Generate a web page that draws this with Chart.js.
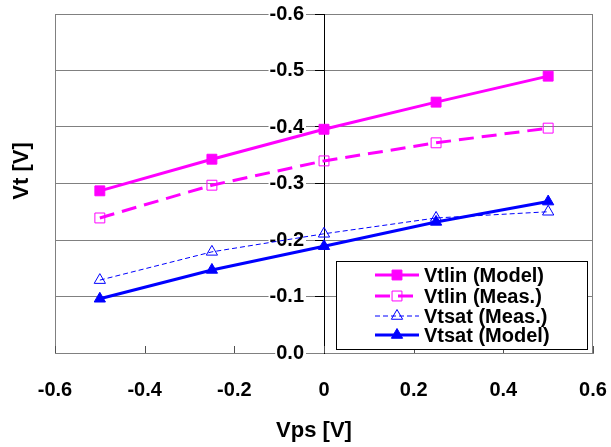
<!DOCTYPE html>
<html><head><meta charset="utf-8">
<script src="https://cdn.jsdelivr.net/npm/chart.js@4.4.0/dist/chart.umd.min.js"></script>
<style>html,body{margin:0;padding:0;background:#fff}#wrap{width:611px;height:447px;position:relative}</style>
</head><body><div id="wrap"><canvas id="c" width="611" height="447"></canvas></div>
<script>
const vps = [-0.5, -0.25, 0, 0.25, 0.5];
const vtlinModel = [-0.287, -0.343, -0.396, -0.444, -0.490];
const vtlinMeas = [-0.239, -0.297, -0.340, -0.372, -0.398];
const vtsatMeas = [-0.129, -0.179, -0.211, -0.239, -0.250];
const vtsatModel = [-0.096, -0.147, -0.189, -0.232, -0.268];
const seriesNames = ['Vtlin (Model)', 'Vtlin (Meas.)', 'Vtsat (Meas.)', 'Vtsat (Model)'];
const xTickValues = [-0.6, -0.4, -0.2, 0, 0.2, 0.4, 0.6];
const xTickLabels = ['-0.6', '-0.4', '-0.2', '0', '0.2', '0.4', '0.6'];
const yTickValues = [-0.6, -0.5, -0.4, -0.3, -0.2, -0.1, 0];
const yTickLabels = ['-0.6', '-0.5', '-0.4', '-0.3', '-0.2', '-0.1', '0.0'];
const xTitle = 'Vps [V]';
const yTitle = 'Vt [V]';

const FONT = '"Liberation Sans", Arial, sans-serif';
const MAG = '#FF00FF', BLUE = '#0000FF';

function pts(ys) { return vps.map((x, i) => ({x: x, y: ys[i]})); }
function lab(values, labels, v) {
  const i = values.findIndex(t => Math.abs(t - v) < 1e-6);
  return i < 0 ? '' : labels[i];
}

const datasets = [
  {label: seriesNames[0], data: pts(vtlinModel), borderColor: MAG, backgroundColor: MAG, borderWidth: 3,
   pointStyle: 'rect', pointRadius: 7, pointBackgroundColor: MAG, pointBorderColor: MAG, pointBorderWidth: 1},
  {label: seriesNames[1], data: pts(vtlinMeas), borderColor: MAG, backgroundColor: MAG, borderWidth: 3, borderDash: [15, 8],
   pointStyle: 'rect', pointRadius: 7, pointBackgroundColor: 'rgba(0,0,0,0)', pointBorderColor: MAG, pointBorderWidth: 1},
  {label: seriesNames[2], data: pts(vtsatMeas), borderColor: BLUE, backgroundColor: BLUE, borderWidth: 1, borderDash: [5, 3],
   pointStyle: 'triangle', pointRadius: 6.5, pointBackgroundColor: 'rgba(0,0,0,0)', pointBorderColor: BLUE, pointBorderWidth: 1},
  {label: seriesNames[3], data: pts(vtsatModel), borderColor: BLUE, backgroundColor: BLUE, borderWidth: 3,
   pointStyle: 'triangle', pointRadius: 6.5, pointBackgroundColor: BLUE, pointBorderColor: BLUE, pointBorderWidth: 1}
];
datasets.forEach(d => { d.fill = false; d.tension = 0; d.pointHoverRadius = d.pointRadius; });

const extras = {
  id: 'extras',
  afterLayout(chart) {
    const s = chart.scales.yLab;
    const x0 = chart.scales.x.getPixelForValue(0);
    s.right = x0;
    s.left = x0 - 60;
    s.width = 60;
  },
  beforeDatasetsDraw(chart) {
    const {ctx, chartArea: a} = chart;
    ctx.save();
    ctx.strokeStyle = '#808080';
    ctx.lineWidth = 1;
    ctx.beginPath();
    ctx.moveTo(a.left + 0.5, a.top); ctx.lineTo(a.left + 0.5, a.bottom);
    ctx.moveTo(a.right - 0.5, a.top); ctx.lineTo(a.right - 0.5, a.bottom);
    ctx.stroke();
    const xs = chart.scales.x;
    ctx.strokeStyle = '#505050';
    ctx.beginPath();
    xs.ticks.forEach(t => {
      const px = Math.round(xs.getPixelForValue(t.value)) + 0.5;
      ctx.moveTo(px, a.bottom); ctx.lineTo(px, a.bottom - 7);
    });
    ctx.stroke();
    ctx.restore();
  },
  afterDatasetsDraw(chart) {
    const ctx = chart.ctx;
    ctx.save();
    const bx = 336, by = 261, bw = 251, bh = 88;
    ctx.fillStyle = '#fff';
    ctx.fillRect(bx, by, bw, bh);
    ctx.strokeStyle = '#000';
    ctx.lineWidth = 1;
    ctx.strokeRect(bx + 0.5, by + 0.5, bw, bh);
    const rows = [275, 296, 316, 335];
    chart.data.datasets.forEach((d, i) => {
      const y = rows[i];
      ctx.save();
      ctx.strokeStyle = d.borderColor;
      ctx.lineWidth = d.borderWidth;
      ctx.setLineDash(d.borderDash || []);
      ctx.beginPath(); ctx.moveTo(375, y); ctx.lineTo(419, y); ctx.stroke();
      ctx.setLineDash([]);
      ctx.fillStyle = d.pointBackgroundColor;
      ctx.strokeStyle = d.pointBorderColor;
      ctx.lineWidth = d.pointBorderWidth;
      Chart.helpers.drawPoint(ctx, {pointStyle: d.pointStyle, radius: d.pointRadius, borderWidth: d.pointBorderWidth, rotation: 0}, 397, y);
      ctx.restore();
      ctx.fillStyle = '#000';
      ctx.font = 'bold 20px ' + FONT;
      ctx.textBaseline = 'middle';
      ctx.textAlign = 'left';
      ctx.fillText(d.label, 424, y + 1);
    });
    ctx.restore();
  },
  afterDraw(chart) {
    const ctx = chart.ctx;
    ctx.save();
    ctx.fillStyle = '#000';
    ctx.font = 'bold 22px ' + FONT;
    ctx.textAlign = 'center';
    ctx.textBaseline = 'alphabetic';
    ctx.fillText(xTitle, 314, 437);
    ctx.translate(28, 171);
    ctx.rotate(-Math.PI / 2);
    ctx.fillText(yTitle, 0, 0);
    ctx.restore();
  }
};

new Chart(document.getElementById('c'), {
  type: 'line',
  data: {datasets: datasets},
  plugins: [extras],
  options: {
    responsive: false,
    animation: false,
    devicePixelRatio: 1,
    layout: {padding: {left: 55, right: 18, top: 14, bottom: 0}},
    plugins: {legend: {display: false}, tooltip: {enabled: false}},
    scales: {
      x: {
        type: 'linear', min: -0.6, max: 0.6,
        afterFit(s) { s.height = 94; s.paddingLeft = 0; s.paddingRight = 0; },
        grid: {display: true, drawOnChartArea: false, drawTicks: false, color: '#808080'},
        border: {display: true, color: '#808080', width: 1},
        ticks: {stepSize: 0.2, padding: 25, color: '#000', font: {family: FONT, size: 20, weight: 'bold'},
          callback: (v) => lab(xTickValues, xTickLabels, v)}
      },
      y: {
        type: 'linear', min: -0.6, max: 0, reverse: true,
        position: {x: 0},
        afterFit(s) { s.paddingTop = 0; s.paddingBottom = 0; },
        grid: {color: '#808080', tickColor: '#000', tickLength: 9, drawTicks: true},
        border: {display: true, color: '#000', width: 1},
        ticks: {stepSize: 0.1, display: false}
      },
      yLab: {
        type: 'linear', min: -0.6, max: 0, reverse: true,
        position: 'left',
        afterFit(s) { s.width = 0; s.paddingTop = 0; s.paddingBottom = 0; },
        grid: {display: false, drawTicks: false},
        border: {display: false},
        ticks: {stepSize: 0.1, padding: 20, color: '#000', font: {family: FONT, size: 20, weight: 'bold'},
          showLabelBackdrop: true, backdropColor: '#fff', backdropPadding: {left: 1, right: 2, top: 1, bottom: 1},
          callback: (v) => lab(yTickValues, yTickLabels, v)}
      }
    }
  }
});
</script>
</body></html>
